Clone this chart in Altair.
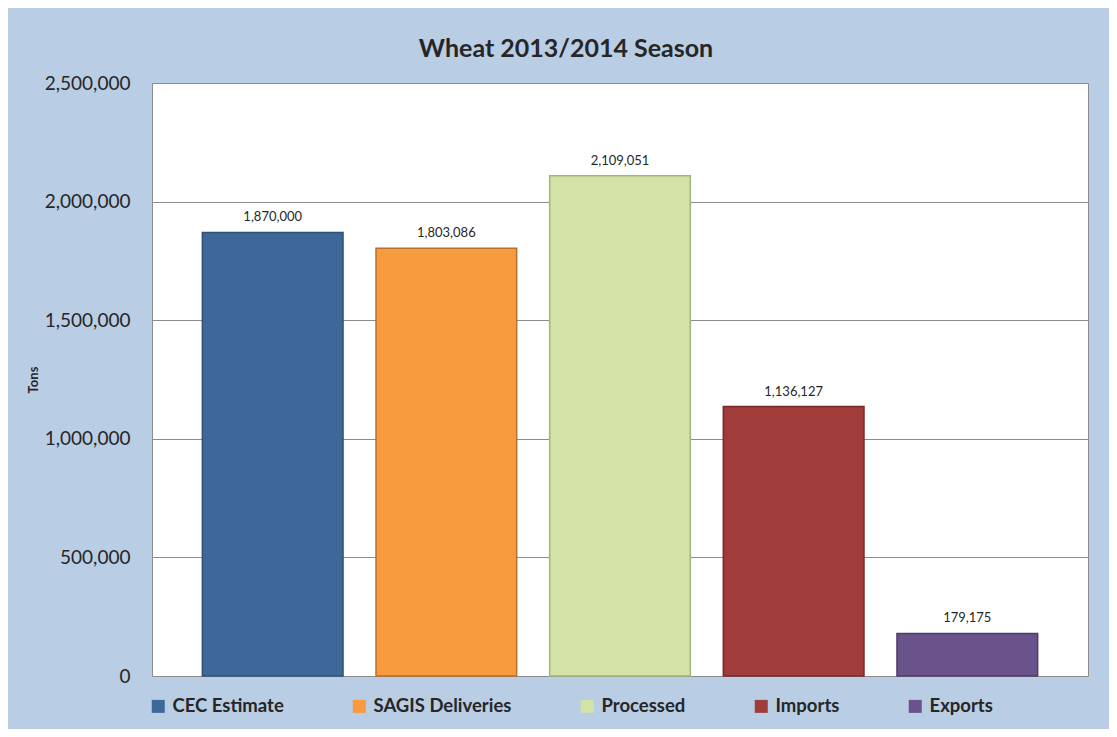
import altair as alt
import pandas as pd

categories = ["CEC Estimate", "SAGIS Deliveries", "Processed", "Imports", "Exports"]
tons = [1870000, 1803086, 2109051, 1136127, 179175]
fill_colors = ["#3E6899", "#F89A3E", "#D3E3A6", "#A03C3A", "#6A528A"]
edge_colors = ["#2F5179", "#B8702C", "#A3B47E", "#742A28", "#4E3C68"]
y_ticks = [0, 500000, 1000000, 1500000, 2000000, 2500000]

df = pd.DataFrame({"category": categories, "tons": tons})

FONT = "Lato"
TXT = "#262626"

x = alt.X("category:N", sort=categories, axis=None,
          scale=alt.Scale(paddingInner=0.19, paddingOuter=0.29))
y = alt.Y("tons:Q",
          scale=alt.Scale(domain=[0, 2500000], nice=False),
          axis=alt.Axis(values=y_ticks, format=",d", title="Tons",
                        ticks=False, domain=False, labelPadding=22,
                        labelFont=FONT, labelFontSize=19, labelColor=TXT,
                        gridColor="#8C8C8C", gridWidth=1,
                        titleFont=FONT, titleFontSize=13, titleFontWeight="bold",
                        titleColor=TXT, titleX=-119, titleY=296.5, titleAngle=270,
                        titleAlign="center", titleBaseline="middle"))

base = alt.Chart(df)

bars = base.mark_bar(strokeWidth=1.5).encode(
    x=x, y=y,
    color=alt.Color("category:N", sort=categories,
                    scale=alt.Scale(domain=categories, range=fill_colors),
                    legend=alt.Legend(title=None, orient="none", legendX=-3, legendY=614,
                                      direction="horizontal", columns=5,
                                      symbolType="square", symbolSize=169,
                                      symbolStrokeWidth=0, labelOffset=5,
                                      columnPadding=66, padding=0,
                                      labelFont=FONT, labelFontSize=18.5,
                                      labelFontWeight="bold", labelColor=TXT,
                                      labelLimit=300)),
    stroke=alt.Stroke("category:N", sort=categories,
                      scale=alt.Scale(domain=categories, range=edge_colors),
                      legend=None),
)

labels = base.mark_text(baseline="bottom", dy=-8, font=FONT, fontSize=13, color=TXT).encode(
    x=x, y=alt.Y("tons:Q"),
    text=alt.Text("tons:Q", format=",d"),
)

chart = alt.layer(bars, labels).properties(
    width=936, height=593,
    title=alt.TitleParams("Wheat 2013/2014 Season", font=FONT, fontSize=25,
                          fontWeight="bold", color=TXT, anchor="middle",
                          dx=-54, offset=12),
    autosize=alt.AutoSizeParams(type="none"),
    padding={"left": 144, "top": 75, "right": 21, "bottom": 53},
    background="#B9CDE5",
).configure_view(fill="white", stroke="#8C8C8C", strokeWidth=1)

chart.save("out.html", embed_options={"renderer": "svg", "actions": False})
